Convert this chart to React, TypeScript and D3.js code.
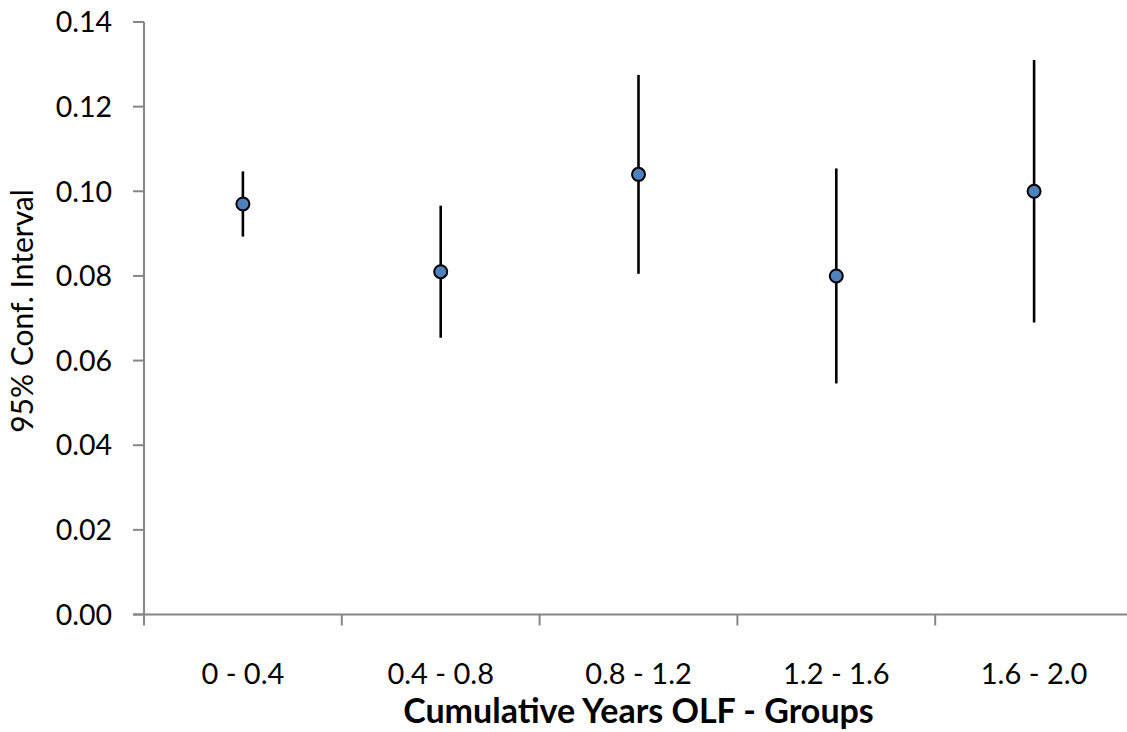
import React from "react";
import * as d3 from "d3";

const categories = ["0 - 0.4", "0.4 - 0.8", "0.8 - 1.2", "1.2 - 1.6", "1.6 - 2.0"];
const means = [0.097, 0.081, 0.104, 0.080, 0.100];
const lower = [0.0893, 0.0654, 0.0805, 0.0546, 0.0690];
const upper = [0.1047, 0.0966, 0.1275, 0.1054, 0.1310];
const yTicks = [0, 0.02, 0.04, 0.06, 0.08, 0.1, 0.12, 0.14];

const W = 1127;
const H = 732;
const left = 144;
const right = 1133;
const top = 22;
const bottom = 614.5;
const FONT = "Lato, 'Open Sans', sans-serif";
const AXIS = "#868686";

export default function App() {
  const x = d3.scaleBand<string>().domain(categories).range([left, right]).padding(0);
  const y = d3.scaleLinear().domain([0, 0.14]).range([bottom, top]);
  const fmt = d3.format(".2f");
  const cx = (c: string) => (x(c) as number) + x.bandwidth() / 2;
  const xTickPos = [...categories.map((c) => x(c) as number), right];

  return (
    <svg width={W} height={H} style={{ position: "absolute", left: 0, top: 0, background: "#fff" }}>
      {/* y axis */}
      <line x1={left} x2={left} y1={y(0.14)} y2={bottom} stroke={AXIS} strokeWidth={2} />
      {yTicks.map((t) => (
        <g key={t}>
          <line x1={left - 11} x2={left} y1={y(t)} y2={y(t)} stroke={AXIS} strokeWidth={2} />
          <text
            x={112}
            y={y(t)}
            dy="0.36em"
            textAnchor="end"
            fontFamily={FONT}
            fontSize={28.5}
            fill="#000"
          >
            {fmt(t)}
          </text>
        </g>
      ))}
      {/* x axis */}
      <line x1={left - 11} x2={right} y1={bottom} y2={bottom} stroke={AXIS} strokeWidth={2} />
      {xTickPos.map((p, i) => (
        <line key={i} x1={p} x2={p} y1={bottom} y2={bottom + 11} stroke={AXIS} strokeWidth={2} />
      ))}
      {categories.map((c) => (
        <text
          key={c}
          x={cx(c)}
          y={684}
          textAnchor="middle"
          fontFamily={FONT}
          fontSize={29}
          fill="#000"
        >
          {c}
        </text>
      ))}
      {/* error bars */}
      {categories.map((c, i) => (
        <line
          key={"e" + c}
          x1={cx(c)}
          x2={cx(c)}
          y1={y(upper[i])}
          y2={y(lower[i])}
          stroke="#000"
          strokeWidth={2.6}
        />
      ))}
      {/* points */}
      {categories.map((c, i) => (
        <circle
          key={"p" + c}
          cx={cx(c)}
          cy={y(means[i])}
          r={6.5}
          fill="#4F81BD"
          stroke="#000"
          strokeWidth={2}
        />
      ))}
      {/* axis titles */}
      <text
        x={(left + right) / 2}
        y={723}
        textAnchor="middle"
        fontFamily={FONT}
        fontWeight="bold"
        fontSize={34}
        fill="#000"
      >
        Cumulative Years OLF - Groups
      </text>
      <text
        transform={`translate(33, 311) rotate(-90)`}
        textAnchor="middle"
        fontFamily={FONT}
        fontSize={30}
        fill="#000"
      >
        95% Conf. Interval
      </text>
    </svg>
  );
}
